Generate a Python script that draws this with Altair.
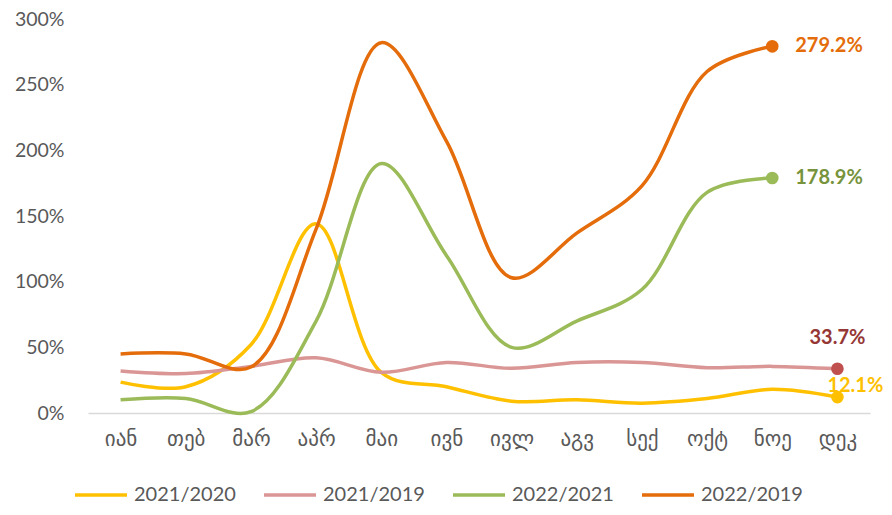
import altair as alt
import pandas as pd

months = ["იან", "თებ", "მარ", "აპრ", "მაი", "ივნ", "ივლ", "აგვ", "სექ", "ოქტ", "ნოე", "დეკ"]
series = ["2021/2020", "2021/2019", "2022/2021", "2022/2019"]

v_2021_2020 = [0.235, 0.20, 0.52, 1.44, 0.31, 0.20, 0.09, 0.10, 0.075, 0.11, 0.18, 0.121]
v_2021_2019 = [0.32, 0.30, 0.355, 0.42, 0.31, 0.385, 0.34, 0.385, 0.385, 0.345, 0.355, 0.337]
v_2022_2021 = [0.10, 0.11, 0.01, 0.70, 1.90, 1.20, 0.50, 0.70, 0.94, 1.68, 1.789]
v_2022_2019 = [0.45, 0.45, 0.35, 1.40, 2.82, 2.07, 1.03, 1.37, 1.73, 2.60, 2.792]

end_labels = ["12.1%", "33.7%", "178.9%", "279.2%"]

line_colors = ["#FFC000", "#DA9694", "#9BBB59", "#E46C0A"]
point_colors = {"2021/2020": "#FFC000", "2021/2019": "#C0504D", "2022/2021": "#9BBB59", "2022/2019": "#E46C0A"}
label_colors = {"2021/2020": "#FFC000", "2021/2019": "#953735", "2022/2021": "#77933C", "2022/2019": "#E46C0A"}

all_vals = [v_2021_2020, v_2021_2019, v_2022_2021, v_2022_2019]
rows = []
ends = []
for s, vals, lab in zip(series, all_vals, end_labels):
    for i, v in enumerate(vals):
        rows.append({"month": months[i], "series": s, "value": v, "order": i})
    ends.append({"month": months[len(vals) - 1], "series": s, "value": vals[-1], "label": lab})
df = pd.DataFrame(rows)
df_end = pd.DataFrame(ends)

FONT = "Lato, DejaVu Sans, sans-serif"

x = alt.X("month:N", sort=months, scale=alt.Scale(domain=months, padding=0.5),
          axis=alt.Axis(title=None, labelAngle=0, ticks=False, tickSize=0, domain=True,
                        domainColor="#D9D9D9", domainWidth=1.5, labelPadding=15,
                        labelFontSize=21, labelColor="#595959", labelFont="DejaVu Sans", grid=False))
y = alt.Y("value:Q", scale=alt.Scale(domain=[0, 3], nice=False),
          axis=alt.Axis(title=None, format=".0%", values=[0, 0.5, 1, 1.5, 2, 2.5, 3], ticks=False,
                        tickSize=0, domain=False, grid=False, labelPadding=24, labelFontSize=19.5,
                        labelColor="#595959", labelFont=FONT))

lines = alt.Chart(df).mark_line(interpolate="catmull-rom", strokeWidth=3.5).encode(
    x=x, y=y,
    color=alt.Color("series:N", scale=alt.Scale(domain=series, range=line_colors),
                    legend=alt.Legend(title=None, orient="none", direction="horizontal",
                                      legendX=-15, legendY=448, symbolType="stroke",
                                      symbolSize=2704, symbolStrokeWidth=3.5,
                                      labelFontSize=20, labelColor="#595959", labelFont=FONT,
                                      labelOffset=5, columnPadding=21, padding=0)),
    order="order:Q",
)

layers = [lines]
for s in series:
    d = df_end[df_end["series"] == s]
    layers.append(alt.Chart(d).mark_circle(size=160, opacity=1, color=point_colors[s]).encode(x=x, y=y))

text_specs = {
    "2022/2019": dict(align="left", baseline="middle", dx=23, dy=0),
    "2022/2021": dict(align="left", baseline="middle", dx=23, dy=0),
    "2021/2019": dict(align="center", baseline="middle", dx=0, dy=-31),
    "2021/2020": dict(align="left", baseline="middle", dx=-10, dy=-11),
}
for s in series:
    d = df_end[df_end["series"] == s]
    layers.append(alt.Chart(d).mark_text(fontSize=20, fontWeight="bold", font=FONT,
                                         color=label_colors[s], **text_specs[s]).encode(
        x=x, y=y, text="label:N"))

chart = alt.layer(*layers).properties(
    width=782, height=394,
    autosize=alt.AutoSizeParams(type="none"),
    padding={"left": 80, "top": 11, "right": 14, "bottom": 94},
).configure_view(stroke=None)

chart.save("out.html", embed_options={"renderer": "svg", "actions": False})
